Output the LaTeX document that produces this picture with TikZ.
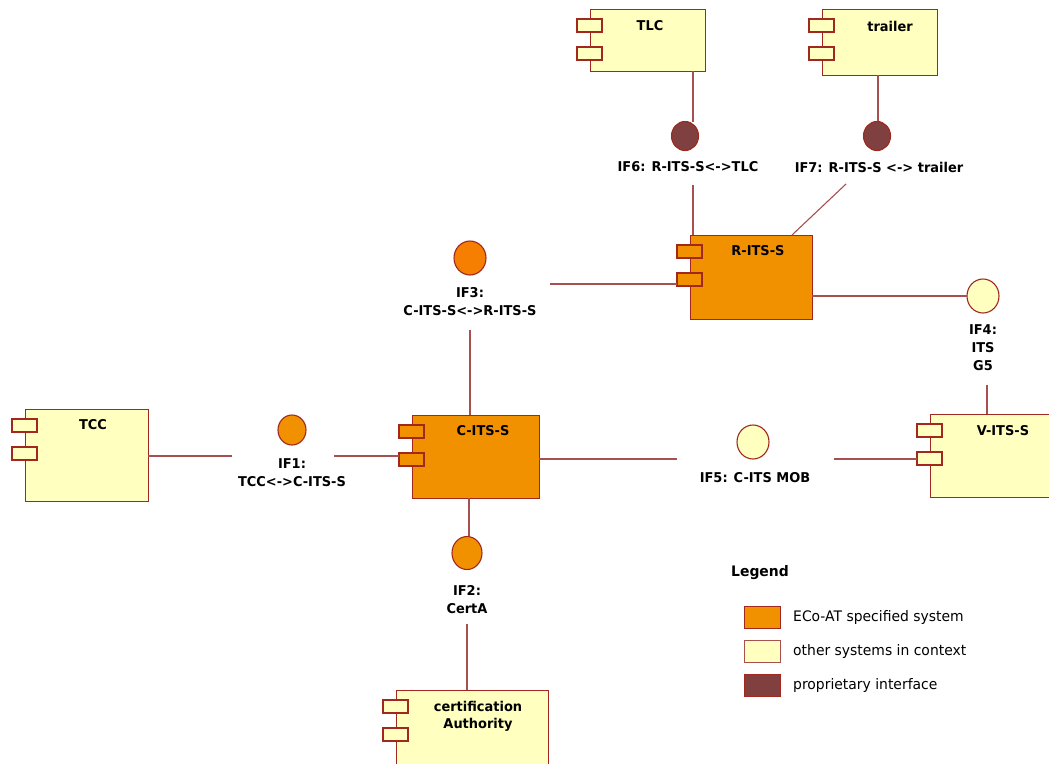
\documentclass[tikz,border=0pt]{standalone}
\usepackage{fontspec}
\setmainfont{DejaVu Sans}[FakeStretch=0.96]
\usetikzlibrary{calc}
\definecolor{ecoorange}{RGB}{242,145,0}
\definecolor{ifred}{RGB}{246,126,0}
\definecolor{ctxyellow}{RGB}{255,255,192}
\definecolor{propdark}{RGB}{128,64,64}
\definecolor{bordc}{RGB}{160,40,30}
\definecolor{connc}{RGB}{168,80,80}
\tikzset{
  x=1pt, y=-1pt,
  boxbase/.style={draw=bordc, line width=1.3pt, inner sep=0pt, anchor=north west},
  tabbox/.style={draw=bordc, line width=1.1pt},
  conn/.style={draw=connc, line width=1.1pt},
  lbl/.style={font=\bfseries\fontsize{13.5}{18}\selectfont, text=black, inner sep=0pt, align=center},
  leg/.style={font=\fontsize{14.5}{17}\selectfont, text=black, inner sep=0pt, anchor=west},
}
\newcommand{\compbox}[6]{% name, x1, y1, x2, y2, fill
  \node[boxbase, fill=#6, minimum width={#4pt-#2pt}, minimum height={#5pt-#3pt}] (#1) at (#2,#3) {};
  \draw[tabbox, fill=#6] ($(#1.north west)+(-13,10)$) rectangle ++(25,13);
  \draw[tabbox, fill=#6] ($(#1.north west)+(-13,38)$) rectangle ++(25,13);
}
\begin{document}
\begin{tikzpicture}
\useasboundingbox[fill=white] (0,0) rectangle (1049,763);

% component boxes
\compbox{tlc}{590}{9}{705}{71}{ctxyellow}
\node[lbl] (tlcl) at (650,26) {TLC};
\compbox{trailer}{822}{9}{937}{75}{ctxyellow}
\node[lbl] (trailerl) at (890,26) {trailer};
\compbox{rits}{690}{235}{812}{319}{ecoorange}
\node[lbl] (ritsl) at (758,251) {R-ITS-S};
\compbox{cits}{412}{415}{539}{498}{ecoorange}
\node[lbl] (citsl) at (483,431) {C-ITS-S};
\compbox{tcc}{25}{409}{148}{501}{ctxyellow}
\node[lbl] (tccl) at (93,425) {TCC};
\compbox{vits}{930}{414}{1060}{497}{ctxyellow}
\node[lbl] (vitsl) at (1003,431) {V-ITS-S};
\compbox{cert}{396}{690}{548}{775}{ctxyellow}
\node[lbl, font=\bfseries\fontsize{13.5}{17}\selectfont] (certl) at (478,716) {certification\\Authority};

% interfaces
\draw[tabbox, fill=propdark] (685,136) ellipse [x radius=13.5, y radius=14.5];
\node[inner sep=0pt, minimum size=27pt] (if6) at (685,136) {};
\draw[tabbox, fill=propdark] (877,136) ellipse [x radius=13.5, y radius=14.5];
\node[inner sep=0pt, minimum size=27pt] (if7) at (877,136) {};
\draw[tabbox, fill=ifred] (470,258) ellipse [x radius=16, y radius=17];
\node[inner sep=0pt, minimum size=32pt] (if3) at (470,258) {};
\draw[tabbox, fill=ctxyellow] (983,296) ellipse [x radius=16, y radius=17];
\node[inner sep=0pt, minimum size=32pt] (if4) at (983,296) {};
\draw[tabbox, fill=ecoorange] (292,430) ellipse [x radius=14, y radius=15];
\node[inner sep=0pt, minimum size=28pt] (if1) at (292,430) {};
\draw[tabbox, fill=ctxyellow] (753,442) ellipse [x radius=16, y radius=17];
\node[inner sep=0pt, minimum size=32pt] (if5) at (753,442) {};
\draw[tabbox, fill=ecoorange] (467,553) ellipse [x radius=15, y radius=16.5];
\node[inner sep=0pt, minimum size=30pt] (if2) at (467,553) {};

% interface labels
\node[lbl] (if6l) at (688,167) {IF6: R-ITS-S<->TLC};
\node[lbl] (if7l) at (879,167) {IF7: R-ITS-S <-> trailer};
\node[lbl] (if3l) at (470,302) {IF3:\\C-ITS-S<->R-ITS-S};
\node[lbl] (if4l) at (983,348) {IF4:\\ITS\\G5};
\node[lbl] (if1l) at (292,473) {IF1:\\TCC<->C-ITS-S};
\node[lbl] (if5l) at (755,478) {IF5: C-ITS MOB};
\node[lbl] (if2l) at (467,600) {IF2:\\CertA};

% free connector ends
\coordinate (c6a) at (693,71);   \coordinate (c6b) at (693,122);
\coordinate (c6c) at (693,185);  \coordinate (c6d) at (693,235);
\coordinate (c7a) at (878,75);   \coordinate (c7b) at (878,121);
\coordinate (c7c) at (846,184);  \coordinate (c7d) at (792,235);
\coordinate (c3a) at (550,284);  \coordinate (c3b) at (677,284);
\coordinate (c4a) at (812,296);  \coordinate (c4b) at (967,296);
\coordinate (c4c) at (987,385);  \coordinate (c4d) at (987,414);
\coordinate (c3c) at (470,330);  \coordinate (c3d) at (470,415);
\coordinate (c1a) at (148,456);  \coordinate (c1b) at (232,456);
\coordinate (c1c) at (334,456);  \coordinate (c1d) at (399,456);
\coordinate (c5a) at (539,459);  \coordinate (c5b) at (677,459);
\coordinate (c5c) at (834,459);  \coordinate (c5d) at (917,459);
\coordinate (c2a) at (469,498);  \coordinate (c2b) at (469,536);
\coordinate (c2c) at (467,624);  \coordinate (c2d) at (467,690);

\draw[conn] (c6a) -- (c6b);
\draw[conn] (c6c) -- (c6d);
\draw[conn] (c7a) -- (c7b);
\draw[conn] (c7c) -- (c7d);
\draw[conn] (c3a) -- (c3b);
\draw[conn] (c4a) -- (c4b);
\draw[conn] (c4c) -- (c4d);
\draw[conn] (c3c) -- (c3d);
\draw[conn] (c1a) -- (c1b);
\draw[conn] (c1c) -- (c1d);
\draw[conn] (c5a) -- (c5b);
\draw[conn] (c5c) -- (c5d);
\draw[conn] (c2a) -- (c2b);
\draw[conn] (c2c) -- (c2d);

% legend
\node[lbl, anchor=west, font=\bfseries\fontsize{14.5}{17}\selectfont] (legt) at (731,573) {Legend};
\node[boxbase, fill=ecoorange, minimum width=36pt, minimum height=22pt] (lg1) at (744,606) {};
\node[boxbase, draw=connc, fill=ctxyellow, minimum width=36pt, minimum height=22pt] (lg2) at (744,640) {};
\node[boxbase, fill=propdark, minimum width=36pt, minimum height=22pt] (lg3) at (744,674) {};
\node[leg] (lg1t) at (793,617) {ECo-AT specified system};
\node[leg] (lg2t) at (793,651) {other systems in context};
\node[leg] (lg3t) at (793,685) {proprietary interface};
\end{tikzpicture}
\end{document}
